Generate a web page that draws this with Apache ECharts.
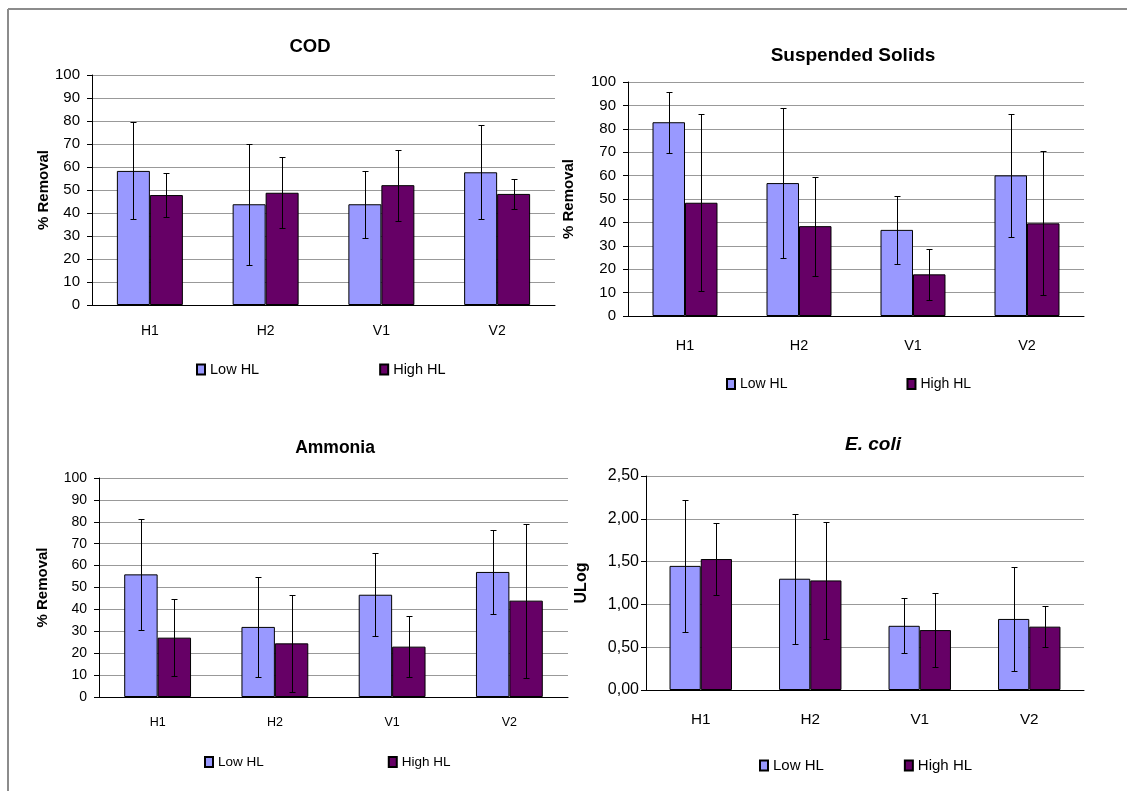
<!DOCTYPE html>
<html>
<head>
<meta charset="utf-8">
<script src="https://cdn.jsdelivr.net/npm/echarts@6/dist/echarts.min.js"></script>
<style>
  html, body { margin: 0; padding: 0; background: #fff; }
  #chart { width: 1127px; height: 791px; }
</style>
</head>
<body>
<div id="chart"></div>
<script>
// Treatment units and loading regimes
const categories = ['H1', 'H2', 'V1', 'V2'];
const seriesNames = ['Low HL', 'High HL'];

// COD removal (%) — mean and standard deviation
const codLow = [58.3, 43.8, 43.8, 57.7];
const codLowSd = [21.1, 26.4, 14.5, 20.5];
const codHigh = [47.8, 48.8, 52.1, 48.3];
const codHighSd = [9.7, 15.4, 15.5, 6.5];

// Suspended solids removal (%)
const ssLow = [82.8, 56.8, 36.8, 60.1];
const ssLowSd = [13.1, 32.2, 14.4, 26.4];
const ssHigh = [48.4, 38.4, 17.8, 39.6];
const ssHighSd = [37.8, 21.1, 11.0, 30.8];

// Ammonia removal (%)
const nhLow = [56.0, 32.0, 46.7, 57.1];
const nhLowSd = [25.2, 23.0, 18.9, 19.1];
const nhHigh = [27.1, 24.5, 23.0, 44.0];
const nhHighSd = [17.6, 22.3, 13.9, 35.1];

// E. coli removal (log units)
const ecLow = [1.45, 1.30, 0.75, 0.83];
const ecLowSd = [0.77, 0.76, 0.32, 0.61];
const ecHigh = [1.53, 1.28, 0.70, 0.74];
const ecHighSd = [0.42, 0.68, 0.43, 0.24];

// Axis tick settings
const pctTicks = { min: 0, max: 100, interval: 10 };
const logTicks = { min: 0, max: 2.5, interval: 0.5 };

const LOW_COLOR = '#9999FF';
const HIGH_COLOR = '#660066';
const GAP = 0.43;
const FONT = '"Liberation Sans", Arial, sans-serif';

const panels = [
  { title: 'COD', italic: false, titleSize: 18.5, titlePos: [305, 32],
    low: codLow, lowSd: codLowSd, high: codHigh, highSd: codHighSd,
    ticks: pctTicks, yName: '% Removal', fmt: v => String(v),
    grid: { left: 92, top: 75, width: 463, height: 230 },
    nameGap: 40, nameSize: 15, ySize: 15, yMargin: 12, xSize: 14, xMargin: 19,
    legend: { left: 191, top: 357, itemGap: 120, fontSize: 14.5 } },
  { title: 'Suspended Solids', italic: false, titleSize: 19, titlePos: [848, 41],
    low: ssLow, lowSd: ssLowSd, high: ssHigh, highSd: ssHighSd,
    ticks: pctTicks, yName: '% Removal', fmt: v => String(v),
    grid: { left: 628, top: 82, width: 456, height: 234 },
    nameGap: 52, nameSize: 15, ySize: 15, yMargin: 12, xSize: 14.4, xMargin: 23,
    legend: { left: 721, top: 372, itemGap: 119, fontSize: 14 } },
  { title: 'Ammonia', italic: false, titleSize: 17.5, titlePos: [330, 434],
    low: nhLow, lowSd: nhLowSd, high: nhHigh, highSd: nhHighSd,
    ticks: pctTicks, yName: '% Removal', fmt: v => String(v),
    grid: { left: 99, top: 478, width: 469, height: 219 },
    nameGap: 49, nameSize: 15, ySize: 14, yMargin: 12, xSize: 12.5, xMargin: 19,
    legend: { left: 199, top: 750, itemGap: 124, fontSize: 13.5 } },
  { title: 'E. coli', italic: true, titleSize: 19, titlePos: [868, 430],
    low: ecLow, lowSd: ecLowSd, high: ecHigh, highSd: ecHighSd,
    ticks: logTicks, yName: 'ULog', fmt: v => v.toFixed(2).replace('.', ','),
    grid: { left: 646, top: 476, width: 438, height: 214 },
    nameGap: 56, nameSize: 16, ySize: 16, yMargin: 7, xSize: 15.3, xMargin: 22,
    legend: { left: 754, top: 753, itemGap: 80, fontSize: 15 } }
];

function errorBars(idx, means, sds, side) {
  return {
    type: 'custom',
    xAxisIndex: idx,
    yAxisIndex: idx,
    z: 10,
    silent: true,
    data: means.map((m, i) => [i, m, sds[i]]),
    encode: { x: 0, y: 1 },
    renderItem(params, api) {
      const i = api.value(0), m = api.value(1), sd = api.value(2);
      const band = api.size([1, 0])[0];
      const barW = band * (1 - GAP) / 2;
      const cx = Math.round(api.coord([i, m])[0] + side * barW / 2) + 0.5;
      const yTop = Math.round(api.coord([i, m + sd])[1]) + 0.5;
      const yBot = Math.round(api.coord([i, m - sd])[1]) + 0.5;
      const cap = 3;
      const style = { stroke: '#000', lineWidth: 1 };
      return {
        type: 'group',
        children: [
          { type: 'line', shape: { x1: cx, y1: yTop, x2: cx, y2: yBot }, style },
          { type: 'line', shape: { x1: cx - cap, y1: yTop, x2: cx + cap, y2: yTop }, style },
          { type: 'line', shape: { x1: cx - cap, y1: yBot, x2: cx + cap, y2: yBot }, style }
        ]
      };
    }
  };
}

const option = {
  animation: false,
  backgroundColor: '#fff',
  textStyle: { fontFamily: FONT },
  title: panels.map(p => ({
    text: p.title,
    left: p.titlePos[0],
    top: p.titlePos[1],
    textAlign: 'center',
    textStyle: { fontFamily: FONT, fontSize: p.titleSize, fontWeight: 'bold',
      fontStyle: p.italic ? 'italic' : 'normal', color: '#000' }
  })),
  legend: panels.map(p => ({
    data: seriesNames,
    left: p.legend.left,
    top: p.legend.top,
    itemGap: p.legend.itemGap,
    itemWidth: 8,
    itemHeight: 10,
    itemTextGap: 3,
    icon: 'rect',
    selectedMode: false,
    textStyle: { fontFamily: FONT, fontSize: p.legend.fontSize, color: '#000' }
  })),
  grid: panels.map(p => Object.assign({ containLabel: false }, p.grid)),
  xAxis: panels.map((p, i) => ({
    type: 'category',
    gridIndex: i,
    data: categories,
    axisLine: { lineStyle: { color: '#000', width: 1 } },
    axisTick: { length: 5, lineStyle: { color: '#000' } },
    axisLabel: { fontFamily: FONT, fontSize: p.xSize, color: '#000', margin: p.xMargin }
  })),
  yAxis: panels.map((p, i) => ({
    type: 'value',
    gridIndex: i,
    min: p.ticks.min,
    max: p.ticks.max,
    interval: p.ticks.interval,
    name: p.yName,
    nameLocation: 'middle',
    nameGap: p.nameGap,
    nameTextStyle: { fontFamily: FONT, fontSize: p.nameSize, fontWeight: 'bold', color: '#000' },
    axisLine: { show: true, lineStyle: { color: '#000', width: 1 } },
    axisTick: { show: true, length: 5, lineStyle: { color: '#000' } },
    axisLabel: { fontFamily: FONT, fontSize: p.ySize, color: '#000', margin: p.yMargin, formatter: p.fmt },
    splitLine: { lineStyle: { color: '#999', width: 1 } }
  })),
  series: panels.flatMap((p, i) => [
    { type: 'bar', name: seriesNames[0], xAxisIndex: i, yAxisIndex: i, data: p.low,
      barGap: '0%', barCategoryGap: (GAP * 100) + '%',
      itemStyle: { color: LOW_COLOR, borderColor: '#000', borderWidth: 1 } },
    { type: 'bar', name: seriesNames[1], xAxisIndex: i, yAxisIndex: i, data: p.high,
      barGap: '0%', barCategoryGap: (GAP * 100) + '%',
      itemStyle: { color: HIGH_COLOR, borderColor: '#000', borderWidth: 1 } },
    errorBars(i, p.low, p.lowSd, -1),
    errorBars(i, p.high, p.highSd, 1)
  ]),
  graphic: [
    { type: 'line', shape: { x1: 8, y1: 9, x2: 1127, y2: 9 }, style: { stroke: '#8c8c8c', lineWidth: 2 }, silent: true },
    { type: 'line', shape: { x1: 8, y1: 9, x2: 8, y2: 791 }, style: { stroke: '#8c8c8c', lineWidth: 2 }, silent: true }
  ]
};

const chart = echarts.init(document.getElementById('chart'), null, { renderer: 'canvas' });
chart.setOption(option);
</script>
</body>
</html>
